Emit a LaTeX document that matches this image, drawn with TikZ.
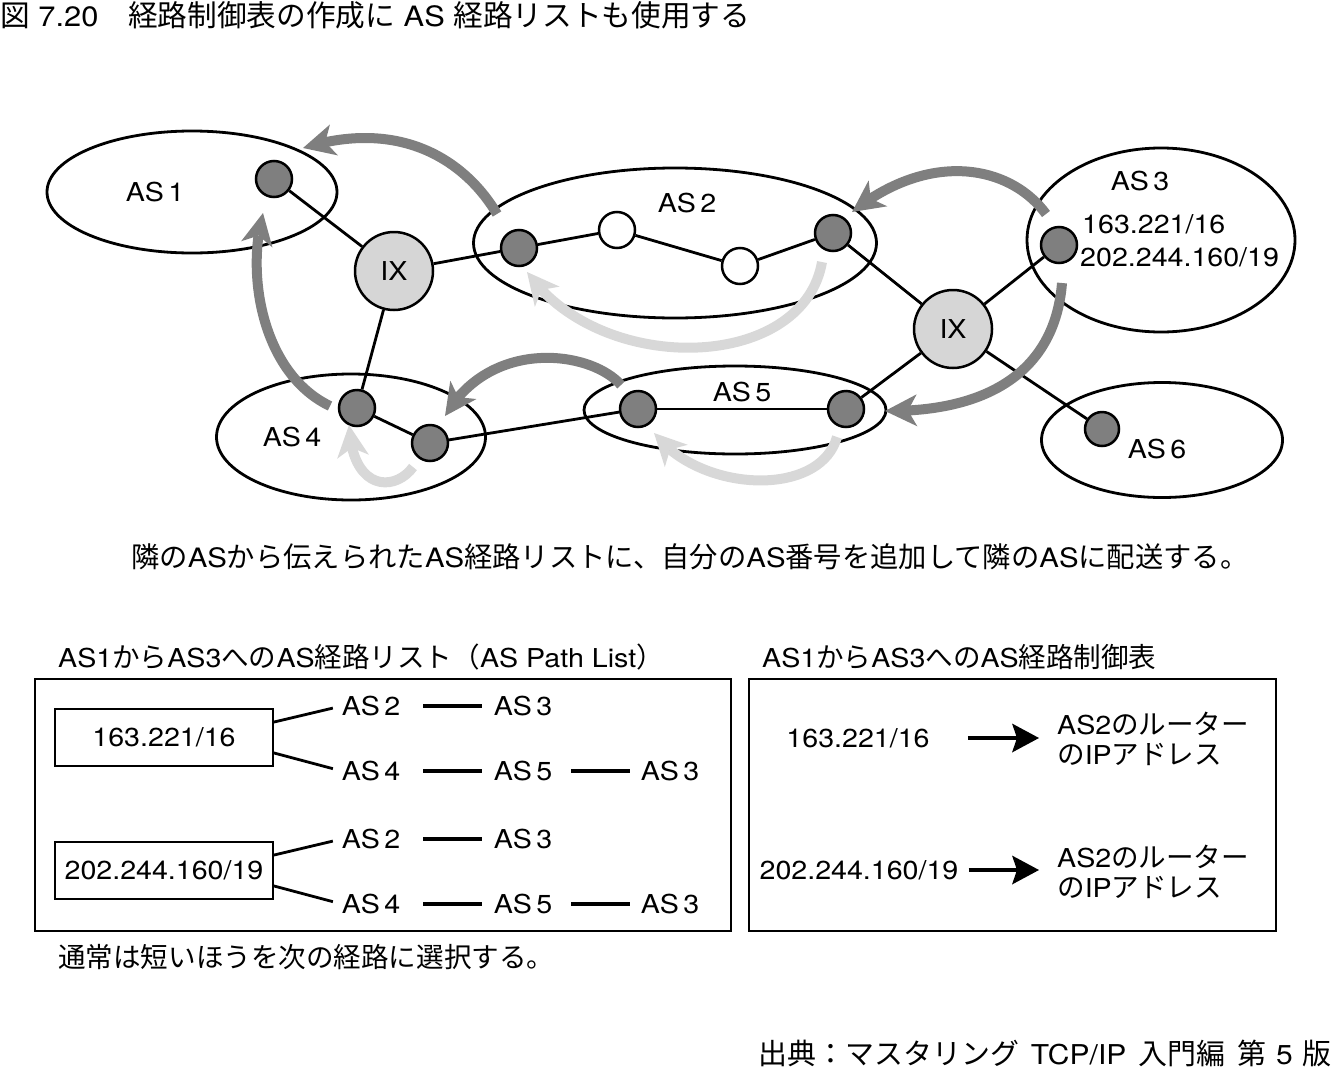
\documentclass[tikz,border=0pt]{standalone}
\usepackage{fontspec}
\setmainfont{TeX Gyre Heros}[FakeStretch=1.1]
\newfontfamily\jp{Noto Sans CJK JP}[Scale=1.06]
\usetikzlibrary{arrows.meta,bending,shapes.geometric}

\definecolor{rtrgray}{HTML}{7F7F7F}
\definecolor{ixgray}{HTML}{D6D6D6}
\definecolor{flowdark}{HTML}{7F7F7F}
\definecolor{flowlight}{HTML}{D8D8D8}

\tikzset{
  asarea/.style={draw,ellipse,line width=2.8pt,inner sep=0pt},
  router/.style={draw,circle,fill=rtrgray,line width=2.5pt,minimum size=36pt,inner sep=0pt},
  idle/.style={router,fill=white},
  ixnode/.style={draw,circle,fill=ixgray,line width=2.5pt,minimum size=78pt,inner sep=0pt,font=\fontsize{26}{30}\selectfont},
  link/.style={line width=2.8pt},
  pushflow/.style={line width=10pt,draw=flowdark,-{Stealth[length=32pt,width=32pt,inset=9pt,line width=0pt]}},
  backflow/.style={pushflow,draw=flowlight},
  lbl/.style={inner sep=0pt,font=\fontsize{26}{30}\selectfont},
  pfxbox/.style={draw,line width=1.8pt,minimum width=218pt,minimum height=57pt,inner sep=0pt,font=\fontsize{26}{30}\selectfont},
  panel/.style={draw,line width=1.8pt},
  hop/.style={line width=3.4pt},
  tblarrow/.style={line width=3.5pt,-{Stealth[length=27pt,width=29pt,inset=5pt,line width=0pt]}}
}

\begin{document}
\begin{tikzpicture}[x=1pt,y=-1pt]
  \useasboundingbox (0,0) rectangle (1332,1068);
  % title
  \node[lbl,anchor=west,font=\fontsize{28}{32}\selectfont] (title) at (0,15) {{\jp 図} 7.20{\jp 　経路制御表の作成に} AS {\jp 経路リストも使用する}};

  % AS areas
  \node[asarea,minimum width=290pt,minimum height=122pt] (as1) at (192,192) {};
  \node[asarea,minimum width=403pt,minimum height=150pt] (as2) at (675,243) {};
  \node[asarea,minimum width=268pt,minimum height=184pt] (as3) at (1161,240) {};
  \node[asarea,minimum width=269pt,minimum height=126pt] (as4) at (351,437) {};
  \node[asarea,minimum width=302pt,minimum height=88pt] (as5) at (735,410) {};
  \node[asarea,minimum width=241pt,minimum height=115pt] (as6) at (1162,440) {};
  \node[lbl] (as1lbl) at (155,192) {AS\,1};
  \node[lbl] (as2lbl) at (687,203) {AS\,2};
  \node[lbl] (as3lbl) at (1140,181) {AS\,3};
  \node[lbl] (as4lbl) at (292,437) {AS\,4};
  \node[lbl] (as5lbl) at (742,392) {AS\,5};
  \node[lbl] (as6lbl) at (1157,449) {AS\,6};
  \node[lbl,anchor=west] (net1) at (1082,224) {163.221/16};
  \node[lbl,anchor=west] (net2) at (1080,257) {202.244.160/19};

  % routers and exchange points
  \node[router] (r1) at (274,179) {};
  \node[ixnode] (ix1) at (394,271) {IX};
  \node[router] (r2a) at (519,248) {};
  \node[idle] (w2a) at (617,230) {};
  \node[idle] (w2b) at (740,266) {};
  \node[router] (r2b) at (833,233) {};
  \node[ixnode] (ix2) at (953,329) {IX};
  \node[router] (r3) at (1059,245) {};
  \node[router] (r4a) at (357,408) {};
  \node[router] (r4b) at (430,443) {};
  \node[router] (r5a) at (638,409) {};
  \node[router] (r5b) at (846,409) {};
  \node[router,minimum size=34pt] (r6) at (1102,429) {};

  \draw[link] (r1) -- (ix1);
  \draw[link] (ix1) -- (r2a);
  \draw[link] (ix1) -- (r4a);
  \draw[link] (r2a) -- (w2a) -- (w2b) -- (r2b);
  \draw[link] (r2b) -- (ix2);
  \draw[link] (ix2) -- (r3);
  \draw[link] (ix2) -- (r5b);
  \draw[link] (ix2) -- (r6);
  \draw[link] (r4a) -- (r4b);
  \draw[link] (r4b) -- (r5a);
  \draw[link] (r5a) -- (r5b);

  % route advertisements
  \coordinate (f1s) at (497,214);  \coordinate (f1e) at (303,148);
  \coordinate (f2s) at (330,406);  \coordinate (f2e) at (263,213);
  \coordinate (f3s) at (1046,214); \coordinate (f3e) at (852,212);
  \coordinate (f4s) at (1062,283); \coordinate (f4e) at (885,411);
  \coordinate (f5s) at (621,385);  \coordinate (f5e) at (445,416);
  \coordinate (b1s) at (822,262);  \coordinate (b1e) at (527,272);
  \coordinate (b2s) at (837,437);  \coordinate (b2e) at (654,433);
  \coordinate (b3s) at (413,467);  \coordinate (b3e) at (349,425);
  \draw[pushflow] (f1s) .. controls (465,160) and (400,118) .. (f1e);
  \draw[pushflow] (f2s) .. controls (265,375) and (245,280) .. (f2e);
  \draw[pushflow] (f3s) .. controls (1010,165) and (930,150) .. (f3e);
  \draw[pushflow] (f4s) .. controls (1055,370) and (990,412) .. (f4e);
  \draw[pushflow] (f5s) .. controls (590,350) and (490,338) .. (f5e);
  \draw[backflow] (b1s) .. controls (803,372) and (600,377) .. (b1e);
  \draw[backflow] (b2s) .. controls (820,498) and (700,493) .. (b2e);
  \draw[backflow] (b3s) .. controls (395,492) and (352,492) .. (b3e);

  \node[lbl,anchor=west,font=\fontsize{26.7}{30}\selectfont] (note) at (131,557) {{\jp 隣の}AS{\jp から伝えられた}AS{\jp 経路リストに、自分の}AS{\jp 番号を追加して隣の}AS{\jp に配送する。}};

  % AS path list
  \node[lbl,anchor=west] (listhead) at (58,657) {AS1{\jp から}AS3{\jp への}AS{\jp 経路リスト（}AS Path List{\jp ）}};
  \draw[panel] (35,679) rectangle (731,931);
  \node[pfxbox] (pfx1) at (164,737.5) {163.221/16};
  \node[pfxbox] (pfx2) at (164,870.5) {202.244.160/19};
  \foreach \row/\y in {a/706,c/839} {
    \node[lbl] (\row1) at (371,\y) {AS\,2};
    \node[lbl] (\row2) at (523,\y) {AS\,3};
    \draw[hop,shorten <=52pt,shorten >=41pt] (\row1.center) -- (\row2.center);
  }
  \foreach \row/\y in {b/771,d/904} {
    \node[lbl] (\row1) at (371,\y) {AS\,4};
    \node[lbl] (\row2) at (523,\y) {AS\,5};
    \node[lbl] (\row3) at (670,\y) {AS\,3};
    \draw[hop,shorten <=52pt,shorten >=41pt] (\row1.center) -- (\row2.center);
    \draw[hop,shorten <=48pt,shorten >=40pt] (\row2.center) -- (\row3.center);
  }
  \draw[link,shorten >=9pt] (pfx1.8) -- (a1.west);
  \draw[link,shorten >=9pt] (pfx1.-8) -- (b1.west);
  \draw[link,shorten >=9pt] (pfx2.8) -- (c1.west);
  \draw[link,shorten >=9pt] (pfx2.-8) -- (d1.west);
  \node[lbl,anchor=west] (foot) at (58,957) {{\jp 通常は短いほうを次の経路に選択する。}};

  % routing table
  \node[lbl,anchor=west] (tblhead) at (762,657) {AS1{\jp から}AS3{\jp への}AS{\jp 経路制御表}};
  \draw[panel] (749,679) rectangle (1276,931);
  \node[lbl] (dst1) at (858,738) {163.221/16};
  \node[lbl] (dst2) at (859,870) {202.244.160/19};
  \node[lbl,anchor=west,align=left] (hop1) at (1057,739) {AS2{\jp のルーター}\\{\jp の}IP{\jp アドレス}};
  \node[lbl,anchor=west,align=left] (hop2) at (1057,872) {AS2{\jp のルーター}\\{\jp の}IP{\jp アドレス}};
  \draw[tblarrow,shorten >=18pt] (dst1.east) ++(38,0) coordinate (t1s) (t1s) -- (t1s -| hop1.west);
  \draw[tblarrow,shorten >=18pt] (dst2.east) ++(10,0) coordinate (t2s) (t2s) -- (t2s -| hop2.west);

  \node[lbl,anchor=east,font=\fontsize{27.3}{31}\selectfont] (source) at (1332,1053) {{\jp 出典：マスタリング}\hspace{12pt}TCP/IP\hspace{12pt}{\jp 入門編}\hspace{12pt}{\jp 第}\hspace{10pt}5\hspace{10pt}{\jp 版}};
\end{tikzpicture}
\end{document}
